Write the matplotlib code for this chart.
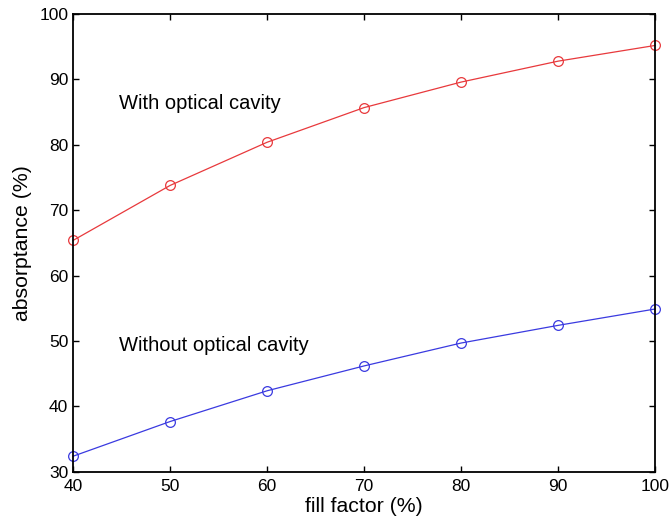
import matplotlib
matplotlib.use("Agg")
import matplotlib.pyplot as plt

plt.rcParams['font.family'] = ['Liberation Sans', 'DejaVu Sans']

fill_factor = [40, 50, 60, 70, 80, 90, 100]
with_cavity = [65.4, 73.8, 80.4, 85.7, 89.6, 92.8, 95.2]
without_cavity = [32.4, 37.7, 42.4, 46.2, 49.7, 52.4, 54.9]
xticks = [40, 50, 60, 70, 80, 90, 100]
yticks = [30, 40, 50, 60, 70, 80, 90, 100]

fig = plt.figure(figsize=(6.71, 5.22), dpi=100)
ax = fig.add_axes([0.109, 0.096, 0.867, 0.877])

ax.plot(fill_factor, with_cavity, color='#e8393c', lw=0.9, marker='o',
        markersize=7, markerfacecolor='none', markeredgecolor='#e8393c', markeredgewidth=0.9, clip_on=False)
ax.plot(fill_factor, without_cavity, color='#3a3ae0', lw=0.9, marker='o',
        markersize=7, markerfacecolor='none', markeredgecolor='#3a3ae0', markeredgewidth=0.9, clip_on=False)

ax.text(44.7, 86.4, 'With optical cavity', fontsize=14.5, va='center', ha='left')
ax.text(44.7, 49.3, 'Without optical cavity', fontsize=14.5, va='center', ha='left')

ax.set_xlim(40, 100)
ax.set_ylim(30, 100)
ax.set_xticks(xticks)
ax.set_yticks(yticks)
ax.tick_params(direction='in', top=True, right=True, labelsize=12.5, length=4, width=1)
ax.tick_params(axis='x', pad=5)
for s in ax.spines.values():
    s.set_linewidth(1.3)
ax.set_xlabel('fill factor (%)', fontsize=15.3, labelpad=2)
ax.set_ylabel('absorptance (%)', fontsize=15.3, labelpad=5)

fig.savefig('out.png', dpi=100)
